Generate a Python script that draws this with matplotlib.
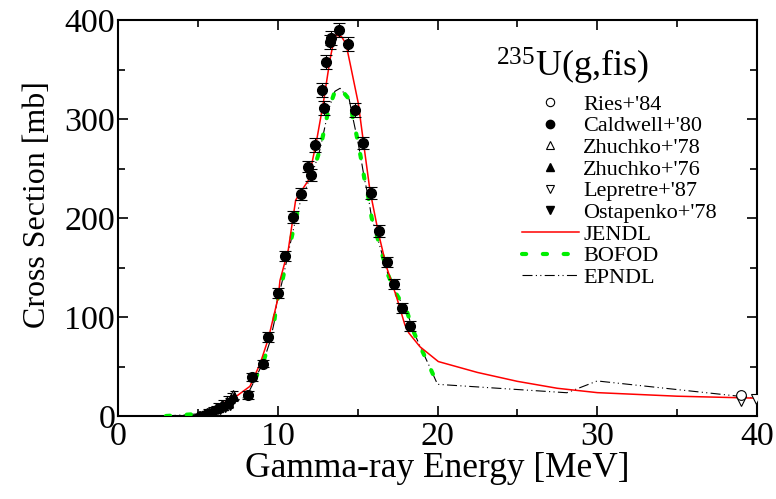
import matplotlib
matplotlib.use("Agg")
import matplotlib.pyplot as plt
import numpy as np
from matplotlib.lines import Line2D

plt.rcParams['font.family'] = ['Liberation Serif', 'DejaVu Serif']
plt.rcParams['mathtext.fontset'] = 'custom'
plt.rcParams['mathtext.rm'] = 'Liberation Serif'

# ---- data ----
caldwell_e = [8.16, 8.4, 9.05, 9.4, 10.0, 10.45, 10.93, 11.46, 11.91, 12.08, 12.35, 12.75, 12.88,
              13.02, 13.25, 13.32, 13.86, 14.38, 14.84, 15.36, 15.82, 16.34, 16.82, 17.3, 17.76, 18.28]
caldwell_xs = [21, 39, 53, 80, 124, 162, 201, 224, 252, 243, 274, 329, 311,
               358, 378, 382, 390, 376, 309, 276, 225, 187, 156, 133, 109, 91]
caldwell_err = [4, 4, 4, 5, 5, 5, 6, 6, 6, 6, 7, 7, 7, 7, 7, 7, 7, 7, 7, 6, 6, 6, 5, 5, 5, 5]

zhuchko76_e = [5.0, 5.15, 5.3, 5.45, 5.6, 5.75, 5.9, 6.05, 6.2, 6.35, 6.5, 6.65, 6.8, 6.95, 7.1, 7.25]
zhuchko76_xs = [0.5, 1.5, 1, 3, 4, 3, 6, 7, 9, 8, 12, 10, 15, 13, 18, 20]
zhuchko76_err = [2, 2, 2, 2, 3, 3, 3, 3, 4, 4, 4, 4, 5, 5, 5, 5]

zhuchko78_e = [5.1, 5.4, 5.7, 6.0, 6.3, 6.6, 6.9, 7.2]
zhuchko78_xs = [1, 2, 5, 5, 9, 11, 14, 22]

ostapenko_e = [5.2, 5.5, 5.8, 6.1, 6.4, 6.7, 7.0]
ostapenko_xs = [0.5, 1.5, 3, 4, 6, 8, 10]

ries_e = [38.97]
ries_xs = [21]
ries_err = [2]

lepretre_e = [38.97, 39.94]
lepretre_xs = [15, 17]

jendl_e = [5.0, 5.5, 6.0, 6.6, 7.5, 8.26, 8.9, 9.41, 10.03, 10.14, 10.66, 11.12, 11.5, 11.92, 12.44,
           12.85, 13.27, 13.58, 14.0, 14.27, 14.53, 15.04, 15.46, 15.77, 16.3, 16.8, 17.44, 17.96,
           18.2, 18.9, 20.05, 22.5, 25.0, 27.5, 30.0, 35.0, 40.0]
jendl_xs = [0, 2, 6, 13, 21, 30, 53, 78, 120, 137, 168, 218, 228, 238, 279,
            316, 360, 385, 383, 376, 356, 316, 265, 228, 185, 151, 120, 92,
            84, 70, 55, 44, 35, 28, 23.6, 20, 18]

bofod_e = [3.0, 4.93, 6.28, 7.32, 8.06, 8.58, 9.1, 9.51, 9.77, 9.93, 10.25, 10.52, 10.77, 11.04,
           11.35, 11.81, 12.29, 12.64, 12.91, 13.17, 13.58, 13.9, 14.47, 14.73, 14.98, 15.19, 15.42,
           15.67, 15.88, 16.19, 16.56, 16.92, 17.4, 18.1, 18.48, 18.95, 19.5, 20.0]
bofod_xs = [0, 2, 6, 14.4, 20, 37, 55, 75, 94, 114, 134, 154, 173, 193,
            213, 232, 251, 269, 289, 309, 328, 331, 320, 299, 280, 262, 240,
            221, 200, 183, 162, 142, 124, 105, 86, 69, 50, 32]

epndl_e = bofod_e + [28.1, 30.0, 40.0]
epndl_xs = bofod_xs + [23.5, 35.4, 18]

# ---- figure ----
fig = plt.figure(figsize=(7.76, 4.99), dpi=100)
ax = fig.add_axes([118/776, 1-416/499, (757-118)/776, (416-20)/499])

ax.plot(epndl_e, epndl_xs, color='black', lw=0.8, dashes=[9, 3, 1, 3, 1, 3], zorder=2)
ax.plot(bofod_e, bofod_xs, color='#00ee00', lw=3.0, dashes=[1.0, 4.0],
        dash_capstyle='round', zorder=3)
ax.plot(jendl_e, jendl_xs, color='red', lw=1.1, zorder=4)

eb = dict(fmt='o', color='black', ms=7, elinewidth=0.8, capsize=4, capthick=0.8, zorder=5)
ax.errorbar(caldwell_e, caldwell_xs, yerr=caldwell_err, **eb)
ax.errorbar(zhuchko76_e, zhuchko76_xs, yerr=zhuchko76_err, fmt='^', color='black', ms=6,
            elinewidth=0.8, capsize=3, capthick=0.8, zorder=5)
ax.plot(zhuchko78_e, zhuchko78_xs, '^', mfc='white', mec='black', ms=6, mew=0.8, zorder=5)
ax.plot(ostapenko_e, ostapenko_xs, 'v', color='black', ms=6, zorder=5)
ax.errorbar(ries_e, ries_xs, yerr=ries_err, fmt='o', mfc='white', mec='black', ecolor='black',
            ms=7, mew=0.8, elinewidth=0.8, capsize=3, zorder=5)
ax.plot(lepretre_e, lepretre_xs, 'v', mfc='white', mec='black', ms=7, mew=0.8, zorder=5)

ax.set_xlim(0, 40)
ax.set_ylim(0, 400)
ax.set_xticks([0, 10, 20, 30, 40])
ax.set_xticks([5, 15, 25, 35], minor=True)
ax.set_yticks([0, 100, 200, 300, 400])
ax.set_yticks([50, 150, 250, 350], minor=True)
ax.tick_params(which='both', direction='in', top=True, right=True, width=1.2)
ax.tick_params(which='major', length=7, labelsize=24.5, pad=2)
ax.tick_params(axis='x', which='major', pad=4)
ax.tick_params(which='minor', length=5)
for s in ax.spines.values():
    s.set_linewidth(1.5)

ax.set_xlabel('Gamma-ray Energy [MeV]', fontsize=25.5, labelpad=0)
ax.set_ylabel('Cross Section [mb]', fontsize=23)
ax.yaxis.set_label_coords((52-118)/639, (416-205)/396)

# legend
handles = [
    Line2D([], [], ls='none', marker='o', mfc='white', mec='black', ms=6, mew=0.8),
    Line2D([], [], ls='none', marker='o', color='black', ms=6),
    Line2D([], [], ls='none', marker='^', mfc='white', mec='black', ms=6, mew=0.8),
    Line2D([], [], ls='none', marker='^', color='black', ms=6),
    Line2D([], [], ls='none', marker='v', mfc='white', mec='black', ms=6, mew=0.8),
    Line2D([], [], ls='none', marker='v', color='black', ms=6),
    Line2D([], [], color='red', lw=1.1),
    Line2D([], [], color='#00ee00', lw=3.0, dashes=[1.0, 4.0], dash_capstyle='round'),
    Line2D([], [], color='black', lw=0.8, dashes=[9, 3, 1, 3, 1, 3]),
]
labels = ["Ries+'84", "Caldwell+'80", "Zhuchko+'78", "Zhuchko+'76", "Lepretre+'87",
          "Ostapenko+'78", "JENDL", "BOFOD", "EPNDL"]
leg = ax.legend(handles, labels, loc='upper left', bbox_to_anchor=(511/776, 1-83/499),
                bbox_transform=fig.transFigure, frameon=False, fontsize=16,
                handlelength=2.55, handletextpad=0.2, labelspacing=0.05, borderpad=0)
fig.text(496/776, 1-66/499, r'$\mathregular{^{235}}$U(g,fis)', fontsize=26, va='center', ha='left')

fig.savefig('out.png', dpi=100)
